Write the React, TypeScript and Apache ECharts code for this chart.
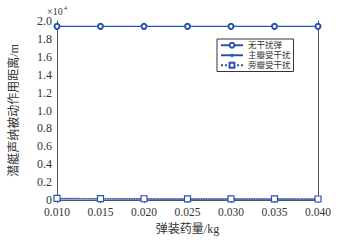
import React, { useEffect, useRef } from "react";
import * as echarts from "echarts";

const categories = ["0.010", "0.015", "0.020", "0.025", "0.030", "0.035", "0.040"];
const seriesNames = ["无干扰弹", "主瓣受干扰", "旁瓣受干扰"];
const noJam = [19400, 19400, 19400, 19400, 19400, 19400, 19400];
const mainLobe = [120, 110, 100, 100, 100, 100, 100];
const sideLobe = [180, 160, 140, 130, 120, 120, 110];

const STAR =
  "path://M50,0 L61,35 L98,35 L68,57 L79,91 L50,70 L21,91 L32,57 L2,35 L39,35 Z";

export default function App() {
  const ref = useRef<HTMLDivElement>(null);
  useEffect(() => {
    if (!ref.current) return;
    const chart = echarts.init(ref.current, undefined, { renderer: "svg" });
    const color = "#2a52ad";
    const font = "Liberation Serif, Noto Sans CJK SC, serif";
    const axisLine = { show: true, lineStyle: { color: "#555", width: 1 } };
    chart.setOption({
      animation: false,
      textStyle: { fontFamily: font },
      grid: { left: 52, right: 20, top: 21, bottom: 42 },
      legend: {
        orient: "vertical",
        left: 217,
        top: 39,
        padding: [2, 3, 2, 3],
        itemGap: 1.5,
        itemWidth: 22,
        itemHeight: 6,
        borderColor: "#333",
        borderWidth: 1,
        backgroundColor: "#fff",
        textStyle: { fontSize: 8.5, color: "#333", fontFamily: font },
        data: seriesNames,
      },
      xAxis: [
        {
          type: "category",
          data: categories,
          boundaryGap: false,
          name: "弹装药量/kg",
          nameLocation: "middle",
          nameGap: 23,
          nameTextStyle: { fontSize: 12, color: "#333" },
          axisLine,
          axisTick: { inside: true, length: 3, lineStyle: { color: "#555" } },
          axisLabel: { fontSize: 11.5, color: "#333", margin: 6 },
          splitLine: { show: false },
        },
        {
          type: "category",
          data: categories,
          boundaryGap: false,
          position: "top",
          axisLine,
          axisTick: { inside: true, length: 3, lineStyle: { color: "#555" } },
          axisLabel: { show: false },
        },
      ],
      yAxis: [
        {
          type: "value",
          min: 0,
          max: 20000,
          interval: 2000,
          name: "潜艇声纳被动作用距离/m",
          nameLocation: "middle",
          nameGap: 37,
          nameTextStyle: { fontSize: 12, color: "#333" },
          axisLine,
          axisTick: { inside: true, length: 3, lineStyle: { color: "#555" } },
          axisLabel: {
            fontSize: 12,
            color: "#333",
            margin: 5,
            formatter: (v: number) => (v === 0 ? "0" : (v / 10000).toFixed(1)),
          },
          splitLine: { show: false },
        },
        {
          type: "value",
          min: 0,
          max: 20000,
          interval: 2000,
          position: "right",
          axisLine,
          axisTick: { inside: true, length: 3, lineStyle: { color: "#555" } },
          axisLabel: { show: false },
          splitLine: { show: false },
        },
      ],
      graphic: [
        {
          type: "text",
          left: 47,
          top: 6,
          style: { text: "×10", fontSize: 10, fill: "#333", fontFamily: font },
        },
        {
          type: "text",
          left: 64,
          top: 5,
          style: { text: "4", fontSize: 6, fill: "#333", fontFamily: font },
        },
      ],
      series: [
        {
          name: seriesNames[0],
          type: "line",
          data: noJam,
          symbol: "emptyCircle",
          symbolSize: 5,
          lineStyle: { color, width: 1.2 },
          itemStyle: { color, borderWidth: 1.2 },
        },
        {
          name: seriesNames[1],
          type: "line",
          data: mainLobe,
          symbol: STAR,
          symbolSize: 7,
          lineStyle: { color, width: 1.2 },
          itemStyle: { color },
        },
        {
          name: seriesNames[2],
          type: "line",
          data: sideLobe,
          symbol: "rect",
          symbolSize: 6,
          lineStyle: { color, width: 1.2, type: "dotted" },
          itemStyle: { color: "#fff", borderColor: color, borderWidth: 1.2 },
        },
      ],
    });
    return () => chart.dispose();
  }, []);
  return (
    <div
      ref={ref}
      style={{ position: "absolute", left: 0, top: 0, width: 338, height: 242 }}
    />
  );
}
